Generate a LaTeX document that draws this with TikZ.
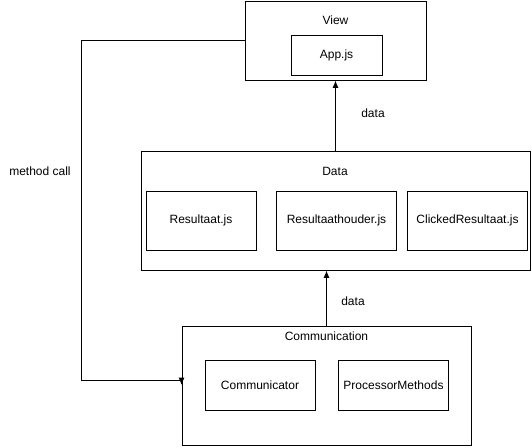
\documentclass[tikz,border=0pt]{standalone}
\usepackage{fontspec}
\setmainfont{Liberation Sans}
\usepackage{tikz}
\usetikzlibrary{
    arrows,
    arrows.meta,
    calc,
    positioning
}

\tikzset{
    box/.style={draw, rectangle, line width=0.75pt, inner sep=0pt},
    conn/.style={line width=0.75pt, -{Latex[length=5.5pt, width=4.5pt]}},
    lbl/.style={inner sep=0pt}
}

\begin{document}
\begin{tikzpicture}[x=0.75pt, y=-0.75pt, font=\fontsize{9pt}{11pt}\selectfont]
    \useasboundingbox (0, 0) rectangle (532, 447);

    % View
    \node[box, minimum width=181*0.75pt, minimum height=79*0.75pt] (view) at (335.5, 40.5) {};
    \node[lbl] (viewlbl) at (335.5, 20) {View};
    \node[box, minimum width=91*0.75pt, minimum height=40*0.75pt] (app) at (336.5, 55) {App.js};

    % Data
    \node[box, minimum width=389*0.75pt, minimum height=119*0.75pt] (data) at (335.5, 210.5) {};
    \node[lbl] (datalbl) at (335, 171) {Data};
    \node[box, minimum width=110*0.75pt, minimum height=59*0.75pt] (res) at (201, 220.5) {Resultaat.js};
    \node[box, minimum width=120*0.75pt, minimum height=59*0.75pt] (resh) at (336.5, 220.5) {Resultaathouder.js};
    \node[box, minimum width=119.5*0.75pt, minimum height=59*0.75pt] (cres) at (467.5, 220.5) {ClickedResultaat.js};

    % Communication
    \node[box, minimum width=289*0.75pt, minimum height=119*0.75pt] (comm) at (326.5, 385.5) {};
    \node[lbl] (commlbl) at (326.5, 336) {Communication};
    \node[box, minimum width=110*0.75pt, minimum height=50*0.75pt] (commr) at (260, 385) {Communicator};
    \node[box, minimum width=110*0.75pt, minimum height=50*0.75pt] (proc) at (393.5, 385) {ProcessorMethods};

    % connectors
    \draw[conn] (data.north) -- (view.south);
    \node[lbl] (d1) at (373, 113) {data};

    \draw[conn] (comm.north) -- (comm.north |- data.south);
    \node[lbl] (d2) at (353, 301) {data};

    \coordinate (mc) at (81, 380);
    \draw[conn] (view.west) -| (mc) -- (comm.west |- mc) -- ++(0, 5);
    \node[lbl] (mclbl) at (40, 171.5) {method call};
\end{tikzpicture}
\end{document}
